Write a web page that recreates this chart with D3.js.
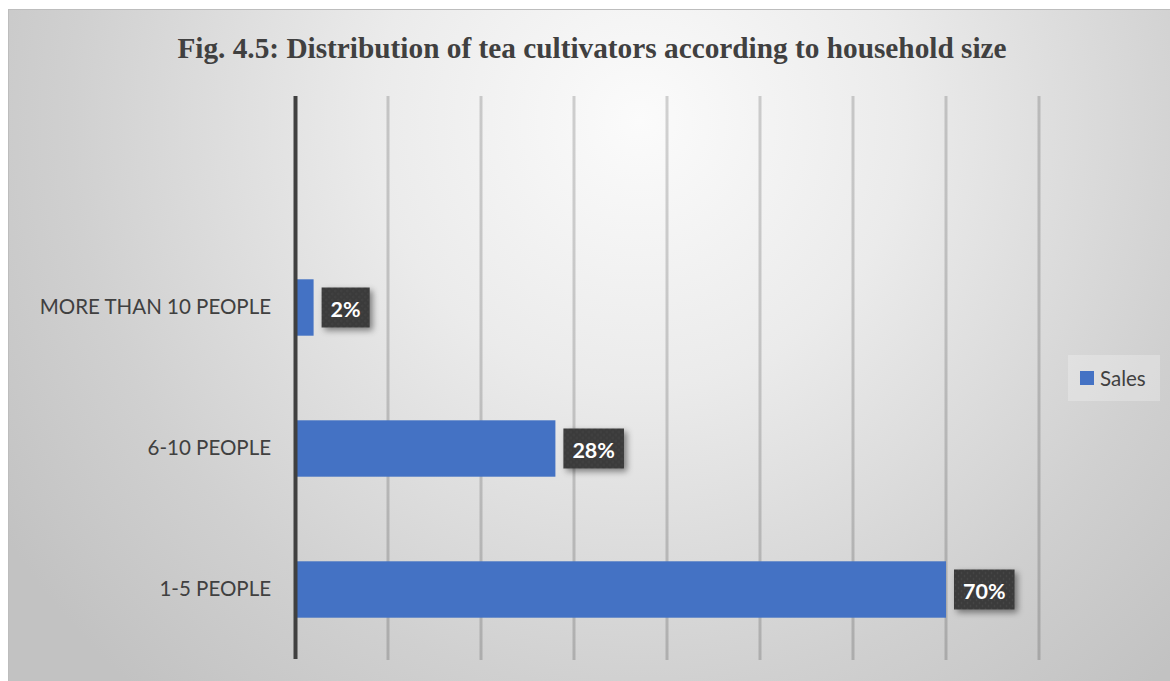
<!DOCTYPE html>
<html>
<head>
<meta charset="utf-8">
<script src="https://cdn.jsdelivr.net/npm/d3@7"></script>
<style>
  html, body { margin: 0; padding: 0; background: #ffffff; }
  svg { display: block; }
</style>
</head>
<body>
<svg id="chart" width="1170" height="681"></svg>
<script>
// Household size groups (bottom to top) and share of tea cultivators (%)
const categories = ["1-5 PEOPLE", "6-10 PEOPLE", "MORE THAN 10 PEOPLE"];
const values = [70, 28, 2];
const xTicks = [0, 10, 20, 30, 40, 50, 60, 70, 80];
const seriesName = "Sales";
const title = "Fig. 4.5: Distribution of tea cultivators according to household size";

const W = 1170, H = 681;
const svg = d3.select("#chart");
const defs = svg.append("defs");

// Soft radial background
const grad = defs.append("radialGradient")
  .attr("id", "bg").attr("gradientUnits", "userSpaceOnUse")
  .attr("cx", 640).attr("cy", 120).attr("r", 760);
grad.append("stop").attr("offset", "0").attr("stop-color", "#fbfbfb");
grad.append("stop").attr("offset", "0.35").attr("stop-color", "#ebebeb");
grad.append("stop").attr("offset", "0.75").attr("stop-color", "#d0d0d0");
grad.append("stop").attr("offset", "1").attr("stop-color", "#c2c2c2");

// Dotted texture for the value callouts
const pat = defs.append("pattern").attr("id", "dots")
  .attr("patternUnits", "userSpaceOnUse").attr("width", 6).attr("height", 6);
pat.append("rect").attr("width", 6).attr("height", 6).attr("fill", "#3a3a3a");
pat.append("circle").attr("cx", 1.5).attr("cy", 1.5).attr("r", 0.9).attr("fill", "#474747");
pat.append("circle").attr("cx", 4.5).attr("cy", 4.5).attr("r", 0.9).attr("fill", "#474747");

const shadow = defs.append("filter").attr("id", "shadow")
  .attr("x", "-30%").attr("y", "-30%").attr("width", "170%").attr("height", "170%");
shadow.append("feDropShadow").attr("dx", 3).attr("dy", 3)
  .attr("stdDeviation", 3).attr("flood-color", "#000").attr("flood-opacity", 0.45);

// Chart frame
svg.append("rect")
  .attr("x", 8.5).attr("y", 9.5).attr("width", W - 8).attr("height", H - 9)
  .attr("fill", "url(#bg)").attr("stroke", "#bdbdbd").attr("stroke-width", 1);

// Title
svg.append("text")
  .attr("x", 592).attr("y", 58)
  .attr("text-anchor", "middle")
  .attr("font-family", "'Liberation Serif', 'Times New Roman', serif")
  .attr("font-weight", "bold").attr("font-size", 29.3)
  .attr("fill", "#404040")
  .text(title);

// Plot area
const plot = { left: 295, right: 1039, top: 96, bottom: 660 };

const x = d3.scaleLinear()
  .domain([0, d3.max(xTicks)])
  .range([plot.left, plot.right]);

// One spare slot above the top category keeps the bars spaced as in the layout
const slots = categories.concat([" "]);
const y = d3.scaleBand()
  .domain(slots)
  .range([plot.bottom, plot.top])
  .paddingInner(0.6).paddingOuter(0.3);

// Vertical gridlines
svg.append("g").selectAll("line")
  .data(xTicks.filter(t => t > 0))
  .join("line")
  .attr("x1", d => x(d)).attr("x2", d => x(d))
  .attr("y1", plot.top).attr("y2", plot.bottom)
  .attr("stroke", "rgba(0,0,0,0.17)").attr("stroke-width", 3);

// Bars
const data = categories.map((c, i) => ({ cat: c, val: values[i] }));
svg.append("g").selectAll("rect")
  .data(data)
  .join("rect")
  .attr("x", x(0))
  .attr("y", d => y(d.cat))
  .attr("width", d => x(d.val) - x(0))
  .attr("height", y.bandwidth())
  .attr("fill", "#4472c4");

// Category axis
const yAxis = svg.append("g")
  .attr("transform", `translate(${x(0)},0)`)
  .call(d3.axisLeft(y).tickSize(0).tickPadding(24));
yAxis.select(".domain").remove();
yAxis.selectAll("text")
  .attr("font-family", "Lato, 'Noto Sans', sans-serif")
  .attr("font-size", 20.5)
  .attr("fill", "#404040");
svg.append("line")
  .attr("x1", x(0) + 0.5).attr("x2", x(0) + 0.5)
  .attr("y1", plot.top).attr("y2", plot.bottom - 1)
  .attr("stroke", "#404040").attr("stroke-width", 4);

// Value callouts
const labels = svg.append("g").selectAll("g")
  .data(data)
  .join("g")
  .attr("transform", d => `translate(${x(d.val) + 8},${y(d.cat) + y.bandwidth() / 2})`);
labels.each(function (d) {
  const g = d3.select(this);
  const t = g.append("text")
    .attr("font-family", "Lato, 'Noto Sans', sans-serif")
    .attr("font-weight", "bold").attr("font-size", 21.5)
    .attr("fill", "#ffffff")
    .attr("dominant-baseline", "central")
    .text(d.val + "%");
  const w = t.node().getComputedTextLength();
  const bw = w + 18, bh = 40;
  g.insert("rect", "text")
    .attr("x", 0).attr("y", -bh / 2)
    .attr("width", bw).attr("height", bh)
    .attr("fill", "url(#dots)")
    .attr("filter", "url(#shadow)");
  t.attr("x", bw / 2).attr("text-anchor", "middle").attr("y", 1);
});

// Legend
const legend = svg.append("g").attr("transform", "translate(1068,355)");
legend.append("rect").attr("width", 92).attr("height", 46)
  .attr("fill", "rgba(255,255,255,0.25)");
legend.append("rect").attr("x", 12).attr("y", 16).attr("width", 14).attr("height", 14)
  .attr("fill", "#4472c4");
legend.append("text").attr("x", 32).attr("y", 23)
  .attr("dominant-baseline", "central")
  .attr("font-family", "Lato, 'Noto Sans', sans-serif")
  .attr("font-size", 20.5).attr("fill", "#404040")
  .text(seriesName);
</script>
</body>
</html>
